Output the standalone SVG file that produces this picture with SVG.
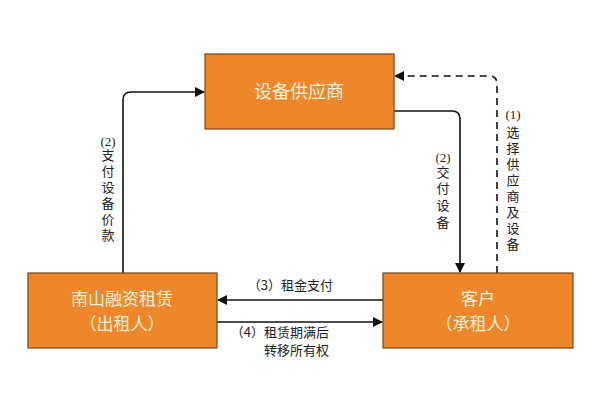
<svg xmlns="http://www.w3.org/2000/svg" width="600" height="414" viewBox="0 0 600 414">
<style>
.box{fill:#EE872A;stroke:#7a4416;stroke-width:1.2}
.bt{fill:#FFF1DF;font-family:"Noto Sans CJK SC",sans-serif;font-size:18px;text-anchor:middle}
.bt2{fill:#FFF1DF;font-family:"Noto Sans CJK SC",sans-serif;font-size:17px;text-anchor:middle}
.lb{fill:#222;font-family:"Liberation Serif","Noto Sans CJK SC",serif;font-size:13px;text-anchor:middle}
.lh{fill:#222;font-family:"Noto Sans CJK SC",sans-serif;font-size:13px;text-anchor:end}
.ln{fill:none;stroke:#111;stroke-width:1.6}
.dash{stroke-dasharray:7,5}
</style>
<defs>
<marker id="ah" markerWidth="10" markerHeight="10" refX="9" refY="5" orient="auto" markerUnits="userSpaceOnUse">
<path d="M0,0 L10,5 L0,10 Z" fill="#111"/>
</marker>
</defs>
<rect width="600" height="414" fill="#fff"/>
<g id="connectors">
<path class="ln" d="M123,273 V100 Q123,92 131,92 H204" marker-end="url(#ah)"/>
<path class="ln" d="M394,111 H452 Q460,111 460,119 V272" marker-end="url(#ah)"/>
<path class="ln dash" d="M497,273 V84 Q497,76 489,76 H395" marker-end="url(#ah)"/>
<path class="ln" d="M383,300 H218" marker-end="url(#ah)"/>
<path class="ln" d="M217,322 H382" marker-end="url(#ah)"/>
<text class="lb"><tspan x="108" y="146">(2)</tspan><tspan x="108" y="160">支</tspan><tspan x="108" y="176">付</tspan><tspan x="108" y="192">设</tspan><tspan x="108" y="208">备</tspan><tspan x="108" y="224">价</tspan><tspan x="108" y="240">款</tspan></text>
<text class="lb"><tspan x="443" y="162">(2)</tspan><tspan x="443" y="177">交</tspan><tspan x="443" y="193">付</tspan><tspan x="443" y="210">设</tspan><tspan x="443" y="227">备</tspan></text>
<text class="lb"><tspan x="513" y="119">(1)</tspan><tspan x="513" y="137">选</tspan><tspan x="513" y="153">择</tspan><tspan x="513" y="169">供</tspan><tspan x="513" y="185">应</tspan><tspan x="513" y="201">商</tspan><tspan x="513" y="217">及</tspan><tspan x="513" y="233">设</tspan><tspan x="513" y="249">备</tspan></text>
<text class="lh" x="333" y="290">（3）租金支付</text>
<text class="lh"><tspan x="329" y="337">（4）租赁期满后</tspan><tspan x="329" y="355">转移所有权</tspan></text>
</g>
<g id="supplier">
<rect class="box" x="205" y="54" width="189" height="75"/>
<text class="bt" x="299" y="98">设备供应商</text>
</g>
<g id="lessor">
<rect class="box" x="28" y="273" width="189" height="75"/>
<text class="bt2"><tspan x="122" y="305">南山融资租赁</tspan><tspan x="122" y="330">（出租人）</tspan></text>
</g>
<g id="lessee">
<rect class="box" x="383" y="273" width="190" height="75"/>
<text class="bt2"><tspan x="478" y="305">客户</tspan><tspan x="478" y="330">（承租人）</tspan></text>
</g>
</svg>
